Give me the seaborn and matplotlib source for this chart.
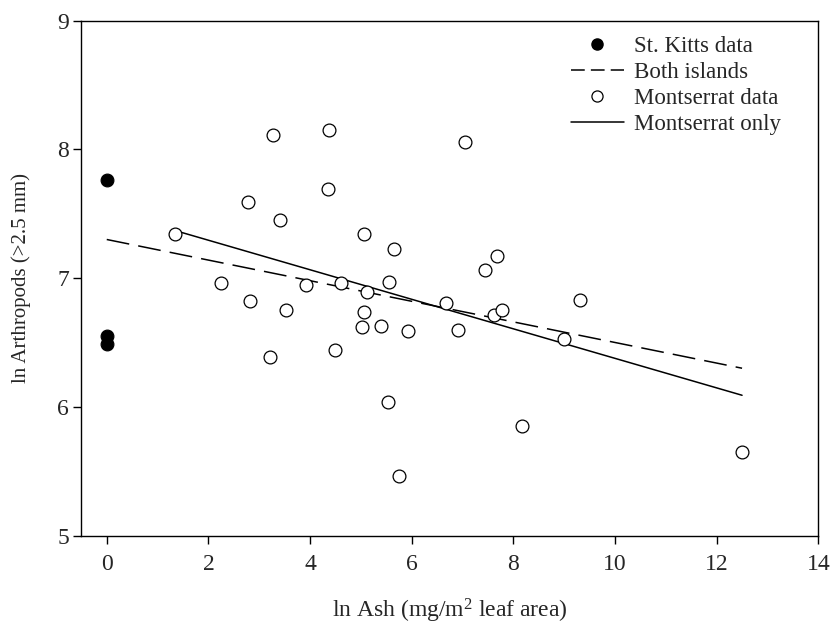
import matplotlib
matplotlib.use("Agg")
import matplotlib.pyplot as plt
from matplotlib.lines import Line2D
import seaborn as sns
import pandas as pd

# St. Kitts samples (no ash)
kitts_ash = [0.0, 0.0, 0.0]
kitts_arth = [7.76, 6.55, 6.49]

# Montserrat samples
mont_ash = [1.34, 2.24, 2.78, 2.82, 3.22, 3.27, 3.40, 3.53, 3.92, 4.35,
            4.38, 4.50, 4.60, 5.03, 5.06, 5.07, 5.12, 5.40, 5.54, 5.55,
            5.66, 5.76, 5.92, 6.67, 6.92, 7.04, 7.45, 7.61, 7.68, 7.78,
            8.18, 9.00, 9.32, 12.50]
mont_arth = [7.34, 6.96, 7.59, 6.82, 6.39, 8.11, 7.45, 6.75, 6.95, 7.69,
             8.15, 6.44, 6.96, 6.62, 7.34, 6.74, 6.89, 6.63, 6.04, 6.97,
             7.23, 5.46, 6.59, 6.81, 6.60, 8.06, 7.06, 6.71, 7.17, 6.75,
             5.85, 6.53, 6.83, 5.65]

# Regression lines (end points)
both_x = [0.0, 12.5]
both_y = [7.30, 6.30]
mont_fit_x = [1.34, 12.5]
mont_fit_y = [7.37, 6.09]

x_ticks = [0, 2, 4, 6, 8, 10, 12, 14]
y_ticks = [5, 6, 7, 8, 9]

sns.set_style("ticks")
plt.rcParams["font.family"] = ["Liberation Serif", "DejaVu Serif"]
plt.rcParams["mathtext.fontset"] = "custom"
plt.rcParams["mathtext.rm"] = "Liberation Serif"
plt.rcParams["mathtext.it"] = "Liberation Serif:italic"

fig = plt.figure(figsize=(8.35, 6.29), dpi=100)
ax = fig.add_axes([0.0974, 0.1485, 0.8826, 0.8187])

kitts = pd.DataFrame({"ash": kitts_ash, "arth": kitts_arth})
mont = pd.DataFrame({"ash": mont_ash, "arth": mont_arth})
both = pd.DataFrame({"ash": both_x, "arth": both_y})
mfit = pd.DataFrame({"ash": mont_fit_x, "arth": mont_fit_y})

sns.lineplot(data=both, x="ash", y="arth", ax=ax, color="black", lw=1.1,
             dashes=False, estimator=None, sort=False, zorder=2)
ax.lines[-1].set_dashes((15, 6))
sns.lineplot(data=mfit, x="ash", y="arth", ax=ax, color="black", lw=1.1,
             estimator=None, sort=False, zorder=2)

sns.scatterplot(data=kitts, x="ash", y="arth", ax=ax, color="black",
                s=85, edgecolor="black", linewidth=0.8, zorder=3)
sns.scatterplot(data=mont, x="ash", y="arth", ax=ax, facecolor="white",
                s=85, edgecolor="black", linewidth=0.9, zorder=3)

ax.set_xlim(-0.5, 14)
ax.set_ylim(5, 9)
ax.set_xticks(x_ticks)
ax.set_yticks(y_ticks)
ax.tick_params(direction="out", length=6, width=1.0, labelsize=17,
               color="black")
ax.tick_params(axis="x", pad=7)
ax.tick_params(axis="y", pad=3)
for sp in ax.spines.values():
    sp.set_visible(True)
    sp.set_linewidth(1.0)
    sp.set_color("black")

ax.set_xlabel("ln Ash (mg/m$^\\mathregular{2}$ leaf area)", fontsize=17, labelpad=16)
ax.set_ylabel("ln Arthropods (>2.5 mm)", fontsize=15, labelpad=19)

handles = [
    Line2D([], [], marker="o", ls="none", color="black", markersize=8),
    Line2D([], [], color="black", lw=1.1, dashes=(9, 4)),
    Line2D([], [], marker="o", ls="none", markerfacecolor="white",
           markeredgecolor="black", markersize=8, markeredgewidth=0.9),
    Line2D([], [], color="black", lw=1.1),
]
labels = ["St. Kitts data", "Both islands", "Montserrat data", "Montserrat only"]
ax.legend(handles, labels, loc="upper left", frameon=False, fontsize=16.5,
          handlelength=2.3, handletextpad=0.45, labelspacing=0.22,
          borderaxespad=0.0, bbox_to_anchor=(0.652, 0.988))

fig.savefig("out.png", dpi=100)
